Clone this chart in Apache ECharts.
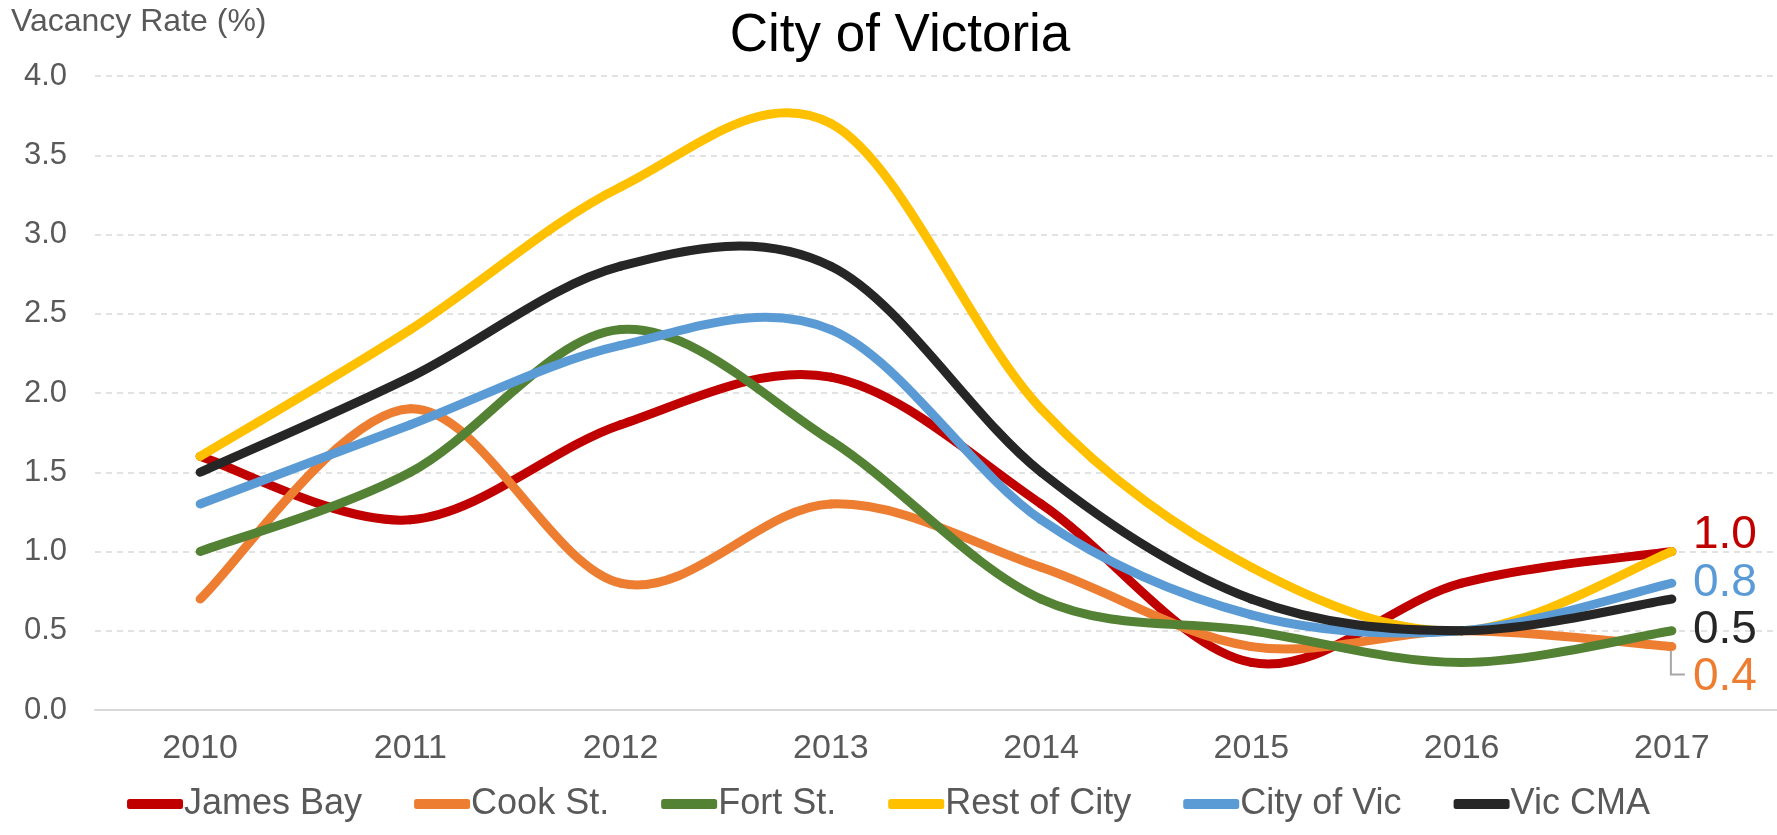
<!DOCTYPE html>
<html>
<head>
<meta charset="utf-8">
<script src="https://cdn.jsdelivr.net/npm/echarts@6/dist/echarts.min.js"></script>
<style>
  html, body { margin: 0; padding: 0; background: #fff; }
  #myChart { width: 1777px; height: 835px; }
</style>
</head>
<body>
<div id="myChart"></div>
<script>
// data
var years = ['2010', '2011', '2012', '2013', '2014', '2015', '2016', '2017'];
var seriesNames = ['James Bay', 'Cook St.', 'Fort St.', 'Rest of City', 'City of Vic', 'Vic CMA'];
var jamesBay   = [1.6, 1.2, 1.8, 2.1, 1.3, 0.3, 0.8, 1.0];
var cookSt     = [0.7, 1.9, 0.8, 1.3, 0.9, 0.4, 0.5, 0.4];
var fortSt     = [1.0, 1.5, 2.4, 1.7, 0.7, 0.5, 0.3, 0.5];
var restOfCity = [1.6, 2.4, 3.3, 3.7, 1.9, 0.9, 0.5, 1.0];
var cityOfVic  = [1.3, 1.8, 2.3, 2.4, 1.2, 0.6, 0.5, 0.8];
var vicCMA     = [1.5, 2.1, 2.8, 2.8, 1.5, 0.7, 0.5, 0.7];
// labels shown at the 2017 end of some lines
var endLabels = ['1.0', '0.4', null, null, '0.8', '0.5'];

var colors = ['#C00000', '#ED7D31', '#548235', '#FFC000', '#5B9BD5', '#262626'];
var allValues = [jamesBay, cookSt, fortSt, restOfCity, cityOfVic, vicCMA];
// where the end label sits, relative to the last point
var labelShift = [[21, -16], [21, 31], null, null, [21, 0], [21, 31]];

var font = 'Liberation Sans, Arial, sans-serif';
var LINE_W = 9;

// excel style smoothed line: each item draws the bezier piece to the next point
function makeRender(i) {
  var vals = allValues[i];
  return function (params, api) {
    var j = params.dataIndex;
    var n = vals.length;
    var pt = function (k) {
      k = Math.max(0, Math.min(n - 1, k));
      return api.coord([k, vals[k]]);
    };
    var children = [];
    if (j < n - 1) {
      var p0 = pt(j - 1), p1 = pt(j), p2 = pt(j + 1), p3 = pt(j + 2);
      children.push({
        type: 'bezierCurve',
        silent: true,
        shape: {
          x1: p1[0], y1: p1[1],
          x2: p2[0], y2: p2[1],
          cpx1: p1[0] + (p2[0] - p0[0]) / 6, cpy1: p1[1] + (p2[1] - p0[1]) / 6,
          cpx2: p2[0] - (p3[0] - p1[0]) / 6, cpy2: p2[1] - (p3[1] - p1[1]) / 6
        },
        style: { stroke: colors[i], lineWidth: LINE_W, fill: null, lineCap: 'round' }
      });
    } else if (endLabels[i]) {
      var e = pt(j);
      children.push({
        type: 'text',
        silent: true,
        x: e[0] + labelShift[i][0],
        y: e[1] + labelShift[i][1],
        style: {
          text: endLabels[i],
          fill: colors[i],
          fontSize: 46,
          fontFamily: font,
          align: 'left',
          verticalAlign: 'middle'
        }
      });
      if (i === 1) {
        // gray leader line from the Cook St. end down to its label
        children.push({
          type: 'polyline',
          silent: true,
          shape: { points: [[e[0] - 1, e[1] + 4], [e[0] - 1, e[1] + 28], [e[0] + 13, e[1] + 28]] },
          style: { stroke: '#A6A6A6', lineWidth: 2, fill: null }
        });
      }
    }
    return { type: 'group', children: children };
  };
}

var series = seriesNames.map(function (name, i) {
  return {
    name: name,
    type: 'custom',
    renderItem: makeRender(i),
    encode: { x: 0, y: 1 },
    data: allValues[i].map(function (v, j) { return [j, v]; }),
    itemStyle: { color: colors[i] },
    clip: false,
    silent: true
  };
});

var myChart = echarts.init(document.getElementById('myChart'));
var option = {
  animation: false,
  color: colors,
  title: {
    text: 'City of Victoria',
    left: 895,
    top: 5,
    textAlign: 'center',
    textStyle: { fontSize: 53, fontWeight: 'normal', color: '#000', fontFamily: font }
  },
  legend: {
    data: seriesNames,
    bottom: 8,
    left: 'center',
    itemWidth: 56,
    itemHeight: 10,
    itemGap: 52,
    icon: 'roundRect',
    textStyle: { fontSize: 36, color: '#595959', fontFamily: font, padding: [0, 0, 0, -4] }
  },
  grid: { left: 95, right: 0, top: 76, bottom: 125, containLabel: false },
  xAxis: {
    type: 'category',
    data: years,
    boundaryGap: true,
    axisLine: { lineStyle: { color: '#D9D9D9', width: 2 } },
    axisTick: { show: false },
    axisLabel: { fontSize: 34, color: '#595959', margin: 22, fontFamily: font }
  },
  yAxis: {
    type: 'value',
    name: 'Vacancy Rate (%)',
    nameLocation: 'end',
    nameGap: 38,
    nameTextStyle: { fontSize: 32, color: '#595959', align: 'left', padding: [0, 0, 0, -84], fontFamily: font },
    min: 0,
    max: 4,
    interval: 0.5,
    axisLine: { show: false },
    axisTick: { show: false },
    splitLine: { lineStyle: { color: '#D9D9D9', type: [6, 5], width: 1.5 } },
    axisLabel: {
      fontSize: 31,
      color: '#595959',
      margin: 28,
      fontFamily: font,
      formatter: function (v) { return v.toFixed(1); }
    }
  },
  series: series
};
myChart.setOption(option);
window.onresize = myChart.resize;
</script>
</body>
</html>
